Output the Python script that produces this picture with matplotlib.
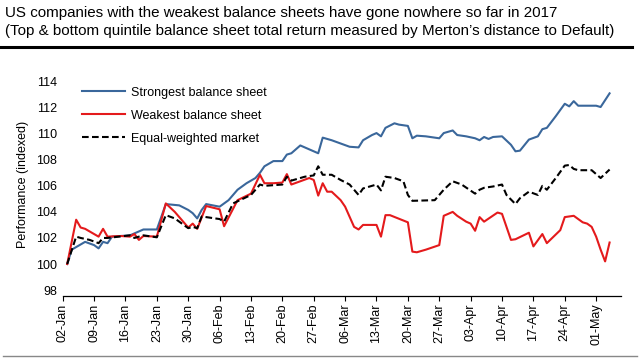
import pandas as pd
import matplotlib
matplotlib.use('Agg')
import matplotlib.pyplot as plt
import matplotlib.dates as mdates
from matplotlib.lines import Line2D

plt.rcParams['font.family'] = ['Liberation Sans', 'DejaVu Sans']

# Data (index level, start = 100)
strong_dates = ['01-03', '01-04', '01-05', '01-07', '01-09', '01-10', '01-11', '01-12', '01-13',
                '01-17', '01-20', '01-23', '01-25', '01-28', '01-30', '01-31', '02-01', '02-02',
                '02-03', '02-06', '02-08', '02-10', '02-12', '02-14', '02-15', '02-16', '02-18',
                '02-20', '02-21', '02-22', '02-23', '02-24', '02-26', '02-28', '03-01', '03-03',
                '03-07', '03-09', '03-10', '03-12', '03-13', '03-14', '03-15', '03-17', '03-18',
                '03-20', '03-21', '03-22', '03-24', '03-27', '03-28', '03-30', '03-31', '04-02',
                '04-04', '04-05', '04-06', '04-07', '04-08', '04-10', '04-12', '04-13', '04-14',
                '04-16', '04-18', '04-19', '04-20', '04-22', '04-24', '04-25', '04-26', '04-27',
                '05-01', '05-02', '05-04']
strong = [100.0, 101.1, 101.3, 101.7, 101.45, 101.2, 101.7, 101.6, 102.1,
          102.2, 102.65, 102.65, 104.6, 104.5, 104.15, 103.9, 103.5, 104.15,
          104.6, 104.4, 104.9, 105.7, 106.2, 106.6, 107.0, 107.5, 107.9,
          107.9, 108.4, 108.5, 108.8, 109.1, 108.8, 108.5, 109.7, 109.5,
          109.0, 108.95, 109.5, 109.9, 110.05, 109.8, 110.45, 110.8, 110.7,
          110.6, 109.65, 109.85, 109.8, 109.65, 110.05, 110.25, 109.9, 109.8,
          109.65, 109.5, 109.75, 109.6, 109.75, 109.8, 109.15, 108.65, 108.7,
          109.55, 109.8, 110.35, 110.45, 111.35, 112.3, 112.1, 112.5, 112.15,
          112.15, 112.05, 113.1]

weak_dates = ['01-03', '01-05', '01-06', '01-07', '01-10', '01-11', '01-12', '01-15', '01-17',
              '01-18', '01-19', '01-20', '01-23', '01-25', '01-27', '01-30', '01-31', '02-01',
              '02-03', '02-06', '02-07', '02-10', '02-13', '02-15', '02-16', '02-18', '02-20',
              '02-21', '02-22', '02-26', '02-27', '02-28', '03-01', '03-02', '03-03', '03-05',
              '03-06', '03-08', '03-09', '03-10', '03-13', '03-14', '03-15', '03-16', '03-20',
              '03-21', '03-22', '03-24', '03-27', '03-28', '03-30', '03-31', '04-02', '04-03',
              '04-04', '04-05', '04-06', '04-09', '04-10', '04-12', '04-13', '04-16', '04-17',
              '04-19', '04-20', '04-23', '04-24', '04-26', '04-28', '04-29', '04-30', '05-01',
              '05-02', '05-03', '05-04']
weak = [100.0, 103.4, 102.8, 102.7, 102.1, 102.7, 102.1, 102.15, 102.1,
        102.3, 101.85, 102.15, 102.1, 104.65, 104.0, 102.8, 103.1, 102.7,
        104.45, 104.2, 102.9, 104.9, 105.4, 106.85, 106.2, 106.2, 106.25,
        106.9, 106.1, 106.6, 106.45, 105.25, 106.2, 105.55, 105.55, 104.9,
        104.4, 102.85, 102.65, 103.0, 103.0, 102.1, 103.75, 103.75, 103.2,
        100.95, 100.9, 101.1, 101.45, 103.7, 104.0, 103.7, 103.25, 103.1,
        102.55, 103.6, 103.25, 103.95, 103.85, 101.85, 101.9, 102.4, 101.35,
        102.3, 101.6, 102.6, 103.6, 103.7, 103.2, 103.1, 102.85, 102.1,
        101.1, 100.2, 101.65]

market_dates = ['01-03', '01-05', '01-06', '01-08', '01-10', '01-11', '01-12', '01-17', '01-18',
                '01-20', '01-23', '01-25', '01-27', '01-30', '01-31', '02-01', '02-02', '02-06',
                '02-07', '02-09', '02-13', '02-15', '02-16', '02-20', '02-21', '02-22', '02-25',
                '02-27', '02-28', '03-01', '03-03', '03-05', '03-07', '03-09', '03-10', '03-13',
                '03-14', '03-15', '03-17', '03-19', '03-20', '03-21', '03-26', '03-28', '03-30',
                '04-01', '04-04', '04-05', '04-06', '04-08', '04-10', '04-11', '04-13', '04-14',
                '04-16', '04-18', '04-19', '04-20', '04-22', '04-24', '04-25', '04-26', '04-27',
                '04-30', '05-02', '05-04']
market = [100.0, 102.1, 102.0, 101.85, 101.6, 102.0, 102.0, 102.2, 102.0,
          102.2, 102.05, 103.75, 103.5, 102.75, 102.85, 102.75, 103.65, 103.45,
          103.25, 104.65, 105.3, 106.1, 106.0, 106.1, 106.7, 106.4, 106.7,
          106.8, 107.5, 106.85, 106.85, 106.45, 106.1, 105.3, 105.8, 106.1,
          105.65, 106.7, 106.6, 106.35, 105.3, 104.85, 104.9, 105.7, 106.35,
          106.1, 105.4, 105.7, 105.85, 105.95, 106.1, 105.3, 104.6, 105.05,
          105.55, 105.3, 106.0, 105.7, 106.6, 107.55, 107.6, 107.3, 107.2,
          107.2, 106.6, 107.25]

labels = ['Strongest balance sheet', 'Weakest balance sheet', 'Equal-weighted market']


def to_dates(days):
    return pd.to_datetime(['2017-' + d for d in days])


fig = plt.figure(figsize=(6.4, 3.6), dpi=100)
ax = fig.add_axes([0.098, 0.178, 0.872, 0.617])

ax.plot(to_dates(strong_dates), strong, color='#3A679B', lw=1.5, label=labels[0])
ax.plot(to_dates(weak_dates), weak, color='#E41A1C', lw=1.5, label=labels[1])
ax.plot(to_dates(market_dates), market, color='black', lw=1.5, dashes=(3.2, 1.6), label=labels[2])

ax.set_xlim(pd.Timestamp('2017-01-02'), pd.Timestamp('2017-05-06 12:00'))
ax.set_ylim(97.55, 114.6)
ax.set_yticks(range(98, 115, 2))
ax.xaxis.set_major_locator(mdates.WeekdayLocator(byweekday=mdates.MO))
ax.xaxis.set_major_formatter(mdates.DateFormatter('%d-%b'))
ax.tick_params(axis='x', labelrotation=90, labelsize=9, length=3.5, width=0.8, pad=2)
ax.tick_params(axis='y', labelsize=9, length=0, pad=4)
for s in ['top', 'right', 'left']:
    ax.spines[s].set_visible(False)
ax.spines['bottom'].set_linewidth(0.9)
ax.set_ylabel('Performance (indexed)', fontsize=9, labelpad=5)

ax.legend(loc='upper left', bbox_to_anchor=(0.026, 0.965), frameon=False, fontsize=9,
          handlelength=3.4, handletextpad=0.5, labelspacing=0.88, borderaxespad=0)

fig.text(0.008, 1 - 12.5 / 360, 'US companies with the weakest balance sheets have gone nowhere so far in 2017',
         fontsize=10.9, va='center', ha='left')
fig.text(0.008, 1 - 31.5 / 360, '(Top & bottom quintile balance sheet total return measured by Merton\u2019s distance to Default)',
         fontsize=10.9, va='center', ha='left')
fig.add_artist(Line2D([0, 632 / 640], [1 - 46.5 / 360] * 2, color='black', lw=2.2))
fig.add_artist(Line2D([3 / 640, 637 / 640], [1 - 356 / 360] * 2, color='#888888', lw=1))

fig.savefig('out.png', dpi=100)
